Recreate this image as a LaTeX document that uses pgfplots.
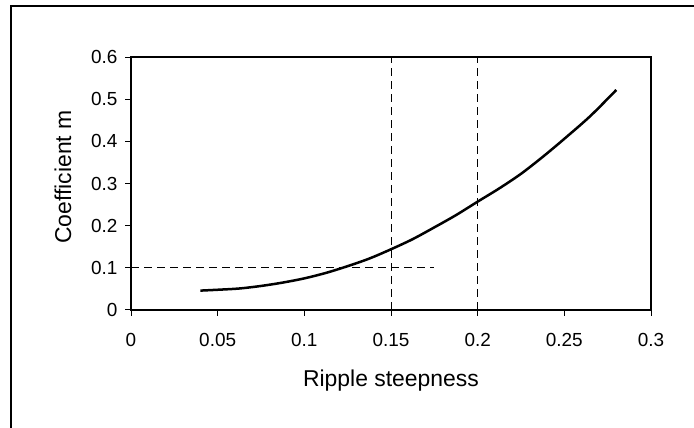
\documentclass[border=0pt]{standalone}
\usepackage{fontspec}
\setmainfont{Liberation Sans}
\usepackage{pgfplots}
\pgfplotsset{compat=1.18}
\begin{document}
\begin{tikzpicture}
\useasboundingbox (0,0) rectangle (694bp,428bp);
\draw[line width=1.8bp] (11bp,0) -- (11bp,422bp) -- (694bp,422bp);
\begin{axis}[
  at={(131bp,118bp)}, anchor=south west,
  scale only axis, width=520bp, height=253bp,
  xmin=0, xmax=0.3, ymin=0, ymax=0.6,
  xtick={0,0.05,0.1,0.15,0.2,0.25,0.3},
  ytick={0,0.1,0.2,0.3,0.4,0.5,0.6},
  scaled ticks=false,
  /pgf/number format/assume math mode=true,
  /pgf/number format/fixed,
  /pgf/number format/precision=2,
  axis line style={line width=2.5bp},
  tick align=outside,
  xtick pos=bottom, ytick pos=left,
  major tick length=6bp,
  tick style={line width=1bp, black},
  ticklabel style={font=\fontsize{19}{22}\selectfont},
  xticklabel style={anchor=center, yshift=-24bp},
  yticklabel style={anchor=east, xshift=-4bp},
  label style={font=\fontsize{23}{26}\selectfont},
  xlabel={Ripple steepness},
  ylabel={Coefficient m},
  xlabel style={at={(axis description cs:0.5,-0.277)}, anchor=center},
  ylabel style={at={(axis description cs:-0.131,0.526)}, anchor=center, rotate=0},
  clip=false,
]
\addplot[black, line width=1bp, dash pattern=on 8bp off 5bp] coordinates {(0,0.1) (0.175,0.1)};
\addplot[black, line width=1bp, dash pattern=on 8bp off 5bp] coordinates {(0.15,0) (0.15,0.6)};
\addplot[black, line width=1bp, dash pattern=on 8bp off 5bp] coordinates {(0.2,0) (0.2,0.6)};
\addplot[black, line width=2.5bp, smooth] coordinates {
(0.04,0.046) (0.05,0.048) (0.0625,0.051) (0.075,0.057) (0.0875,0.065) (0.1,0.075)
(0.1125,0.088) (0.125,0.104) (0.1375,0.122) (0.15,0.144) (0.1625,0.168) (0.175,0.196)
(0.1875,0.225) (0.2,0.257) (0.2125,0.2885) (0.225,0.323) (0.2375,0.363) (0.25,0.406)
(0.265,0.46) (0.28,0.522)};
\end{axis}
\end{tikzpicture}
\end{document}
